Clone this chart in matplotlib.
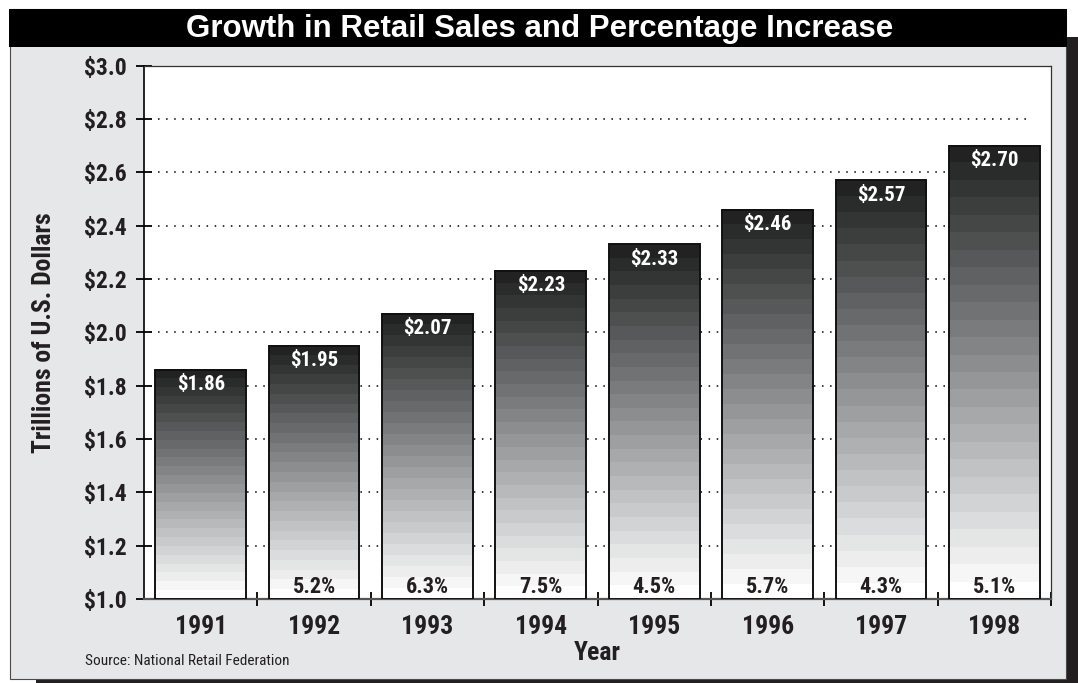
import numpy as np
import matplotlib
matplotlib.use("Agg")
import matplotlib.pyplot as plt
from matplotlib.patches import Rectangle

# ---------------- data ----------------
years = ["1991", "1992", "1993", "1994", "1995", "1996", "1997", "1998"]
sales = [1.86, 1.95, 2.07, 2.23, 2.33, 2.46, 2.57, 2.70]
value_labels = ["$1.86", "$1.95", "$2.07", "$2.23", "$2.33", "$2.46", "$2.57", "$2.70"]
pct_labels = ["", "5.2%", "6.3%", "7.5%", "4.5%", "5.7%", "4.3%", "5.1%"]
y_ticks = [1.0, 1.2, 1.4, 1.6, 1.8, 2.0, 2.2, 2.4, 2.6, 2.8, 3.0]
y_tick_labels = ["$1.0", "$1.2", "$1.4", "$1.6", "$1.8", "$2.0", "$2.2", "$2.4", "$2.6", "$2.8", "$3.0"]
title = "Growth in Retail Sales and Percentage Increase"
y_title = "Trillions of U.S. Dollars"
x_title = "Year"
source = "Source: National Retail Federation"

# ---------------- style ----------------
W, H = 1078, 683
FONT = ["Roboto Condensed", "DejaVu Sans"]
TITLE_FONT = ["Liberation Sans", "DejaVu Sans"]
PANEL = "#e6e7e8"
INK = "#231f20"

def fx(px):
    return px / W

def fy(py):
    return 1 - py / H

fig = plt.figure(figsize=(W / 100, H / 100), dpi=100)
fig.patch.set_facecolor("white")

# outer panel, title bar and drop shadows
fig.add_artist(Rectangle((fx(1066), fy(683)), fx(1078) - fx(1066), fy(37) - fy(683),
                         transform=fig.transFigure, facecolor=INK, edgecolor="none", zorder=0))
fig.add_artist(Rectangle((fx(36), fy(683)), fx(1078) - fx(36), fy(679) - fy(683),
                         transform=fig.transFigure, facecolor=INK, edgecolor="none", zorder=0))
fig.add_artist(Rectangle((fx(9.5), fy(679)), fx(1065.5) - fx(9.5), fy(9) - fy(679),
                         transform=fig.transFigure, facecolor=PANEL, edgecolor="#4a4a4a",
                         linewidth=0.8, zorder=0))
fig.add_artist(Rectangle((fx(9), fy(47.3)), fx(1066.5) - fx(9), fy(9) - fy(47.3),
                         transform=fig.transFigure, facecolor="black", edgecolor="none", zorder=0))

left, right, top, bottom = 144, 1051, 65.5, 599
ax = fig.add_axes([fx(left), fy(bottom), fx(right) - fx(left), fy(top) - fy(bottom)])
ax.set_facecolor("white")

x = np.arange(len(years))
base = y_ticks[0]
bar_w = 0.80

# gradient fill (26 bands, dark top -> white bottom)
n_bands = 26
t = np.linspace(0, 1, n_bands)
g = 0x22 + (0xFF - 0x22) * t
cols = np.stack([g, g + 1.5 * np.sin(np.pi * t), g + 3.0 * np.sin(np.pi * t)], axis=1) / 255.0
cols = np.clip(cols, 0, 1)
grad = cols[:, None, :]  # top row first

bars = ax.bar(x, np.array(sales) - base, bottom=base, width=bar_w,
              facecolor="none", edgecolor="#111111", linewidth=1.4, zorder=4)
for b in bars:
    x0, y0 = b.get_x(), b.get_y()
    ax.imshow(grad, extent=(x0, x0 + b.get_width(), y0, y0 + b.get_height()),
              aspect="auto", interpolation="nearest", origin="upper", zorder=3)

# dotted grid lines
for yv in y_ticks[1:-1]:
    ax.hlines(yv, -0.378, 7.29, colors="black", linestyles=(0, (1, 4.3)), linewidth=1.1, zorder=1)

ax.set_xlim(-0.5, len(years) - 0.5)
ax.set_ylim(y_ticks[0], y_ticks[-1])

# value labels and percentage labels
for xi, v, lab, pct in zip(x, sales, value_labels, pct_labels):
    ax.annotate(lab, (xi, v), xytext=(0, -10.8), textcoords="offset points",
                ha="center", va="center", color="white", fontsize=15, fontweight="bold",
                family=FONT, zorder=6)
    if pct:
        ax.annotate(pct, (xi, base), xytext=(0, 4.3), textcoords="offset points",
                    ha="center", va="baseline", color=INK, fontsize=16, fontweight="bold",
                    family=FONT, zorder=6)

# axes styling
ax.set_yticks(y_ticks)
ax.set_yticklabels(y_tick_labels, fontsize=17, fontweight="bold", family=FONT, color=INK)
ax.tick_params(axis="y", direction="inout", length=11.5, width=1.3, pad=6.5, color="black")
ax.set_xticks(x)
ax.set_xticklabels(years, fontsize=18.5, fontweight="bold", family=FONT, color=INK)
ax.set_xticks(np.arange(0.5, len(years), 1.0), minor=True)
ax.tick_params(axis="x", which="major", length=0, pad=11.5)
ax.tick_params(axis="x", which="minor", direction="inout", length=10, width=1.3, color="black")

ax.spines["left"].set_color("black")
ax.spines["left"].set_linewidth(1.2)
ax.spines["bottom"].set_color("#555555")
ax.spines["bottom"].set_linewidth(1.6)
for s in ("top", "right"):
    ax.spines[s].set_color("#333333")
    ax.spines[s].set_linewidth(0.9)

# texts
fig.text(fx(540), fy(28.5), title, ha="center", va="center", color="white",
         fontsize=22.5, fontweight="bold", family=TITLE_FONT)
fig.text(fx(44), fy(333), y_title, ha="center", va="center", rotation=90, color=INK,
         fontsize=18.5, fontweight="bold", family=FONT)
fig.text(fx(597.5), fy(653.5), x_title, ha="center", va="center", color=INK,
         fontsize=18.5, fontweight="bold", family=FONT)
fig.text(fx(85), fy(665), source, ha="left", va="baseline", color=INK,
         fontsize=11, family=FONT)

fig.savefig("out.png", dpi=100, facecolor=fig.get_facecolor())
